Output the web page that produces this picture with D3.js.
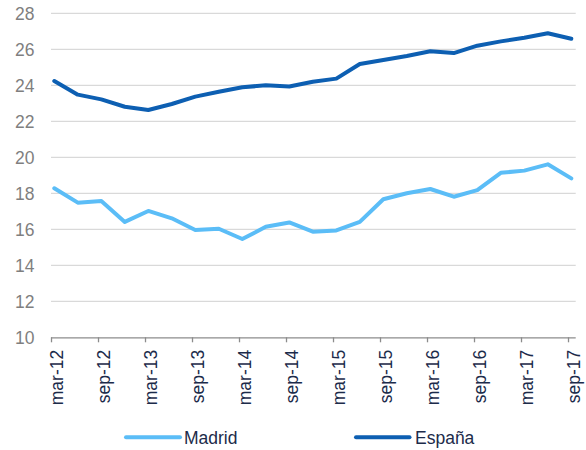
<!DOCTYPE html>
<html><head><meta charset="utf-8">
<script src="https://cdn.jsdelivr.net/npm/d3@7"></script>
<style>
body{margin:0;background:#fff;}
svg{display:block;font-family:"Liberation Sans",Arial,sans-serif;}
</style></head>
<body><svg id="c" width="586" height="450"></svg>
<script>
const categories = ["mar-12","jun-12","sep-12","dec-12","mar-13","jun-13","sep-13","dec-13","mar-14","jun-14","sep-14","dec-14","mar-15","jun-15","sep-15","dec-15","mar-16","jun-16","sep-16","dec-16","mar-17","jun-17","sep-17"];
const madrid = [18.28,17.48,17.57,16.41,17.02,16.61,15.96,16.03,15.46,16.14,16.38,15.87,15.94,16.41,17.67,18.0,18.24,17.81,18.18,19.14,19.26,19.61,18.83];
const espana = [24.24,23.48,23.22,22.81,22.63,22.96,23.37,23.64,23.89,24.0,23.93,24.2,24.37,25.18,25.41,25.63,25.89,25.79,26.2,26.44,26.64,26.89,26.59];
const yTicks = [10,12,14,16,18,20,22,24,26,28];
const seriesNames = ["Madrid","España"];
const colors = ["#5BBDF7","#0D5FB2"];

const svg = d3.select("#c");
const x = d3.scaleLinear().domain([0,22]).range([54.3,571.3]);
const y = d3.scaleLinear().domain([10,28]).range([337.3,13.3]);
const tickShift = -0.14;

// gridlines
svg.append("g").selectAll("line").data(yTicks.filter(v=>v>10)).join("line")
  .attr("x1",51).attr("x2",575.7)
  .attr("y1",d=>y(d)).attr("y2",d=>y(d))
  .attr("stroke","#d9d9d9").attr("stroke-width",1.2);

// y labels
svg.append("g").selectAll("text").data(yTicks).join("text")
  .attr("x",34.5).attr("y",d=>y(d)).attr("dy","0.36em")
  .attr("text-anchor","end").attr("font-size",17.5).attr("fill","#7f7f7f")
  .text(d=>d);

// x axis
const labelIdx = d3.range(0,23,2);
const xAxis = d3.axisBottom(x)
  .tickValues(labelIdx.map(i=>i+tickShift))
  .tickSize(5).tickSizeOuter(0)
  .tickFormat((d,i)=>categories[labelIdx[i]]);
const gx = svg.append("g").attr("transform",`translate(0,${y(10)})`).call(xAxis);
gx.select(".domain").attr("d",`M51,0.5H575.7`).attr("stroke","#8c8c8c").attr("stroke-width",1.3);
gx.selectAll(".tick line").attr("stroke","#8c8c8c").attr("stroke-width",1.3);
gx.selectAll(".tick text")
  .attr("font-size",17.5).attr("fill","#1c2b4a")
  .attr("font-family","'Liberation Sans',Arial,sans-serif")
  .attr("text-anchor","end").attr("dy","0.35em")
  .attr("x",0).attr("y",0)
  .attr("transform","translate(5.3,12.5) rotate(-90)");

// lines
const line = d3.line().x((d,i)=>x(i)).y(d=>y(d));
[madrid,espana].forEach((s,k)=>{
  svg.append("path").datum(s).attr("d",line)
    .attr("fill","none").attr("stroke",colors[k]).attr("stroke-width",4)
    .attr("stroke-linejoin","round").attr("stroke-linecap","round");
});

// legend
const legendPos = [{x1:126,x2:180,tx:184},{x1:356,x2:409.5,tx:415}];
const lg = svg.append("g");
seriesNames.forEach((n,k)=>{
  const p = legendPos[k];
  lg.append("line").attr("x1",p.x1).attr("x2",p.x2).attr("y1",437.3).attr("y2",437.3)
    .attr("stroke",colors[k]).attr("stroke-width",4).attr("stroke-linecap","round");
  lg.append("text").attr("x",p.tx).attr("y",437.3).attr("dy","0.36em")
    .attr("font-size",17.5).attr("fill","#1c2b4a").text(n);
});
</script></body></html>
